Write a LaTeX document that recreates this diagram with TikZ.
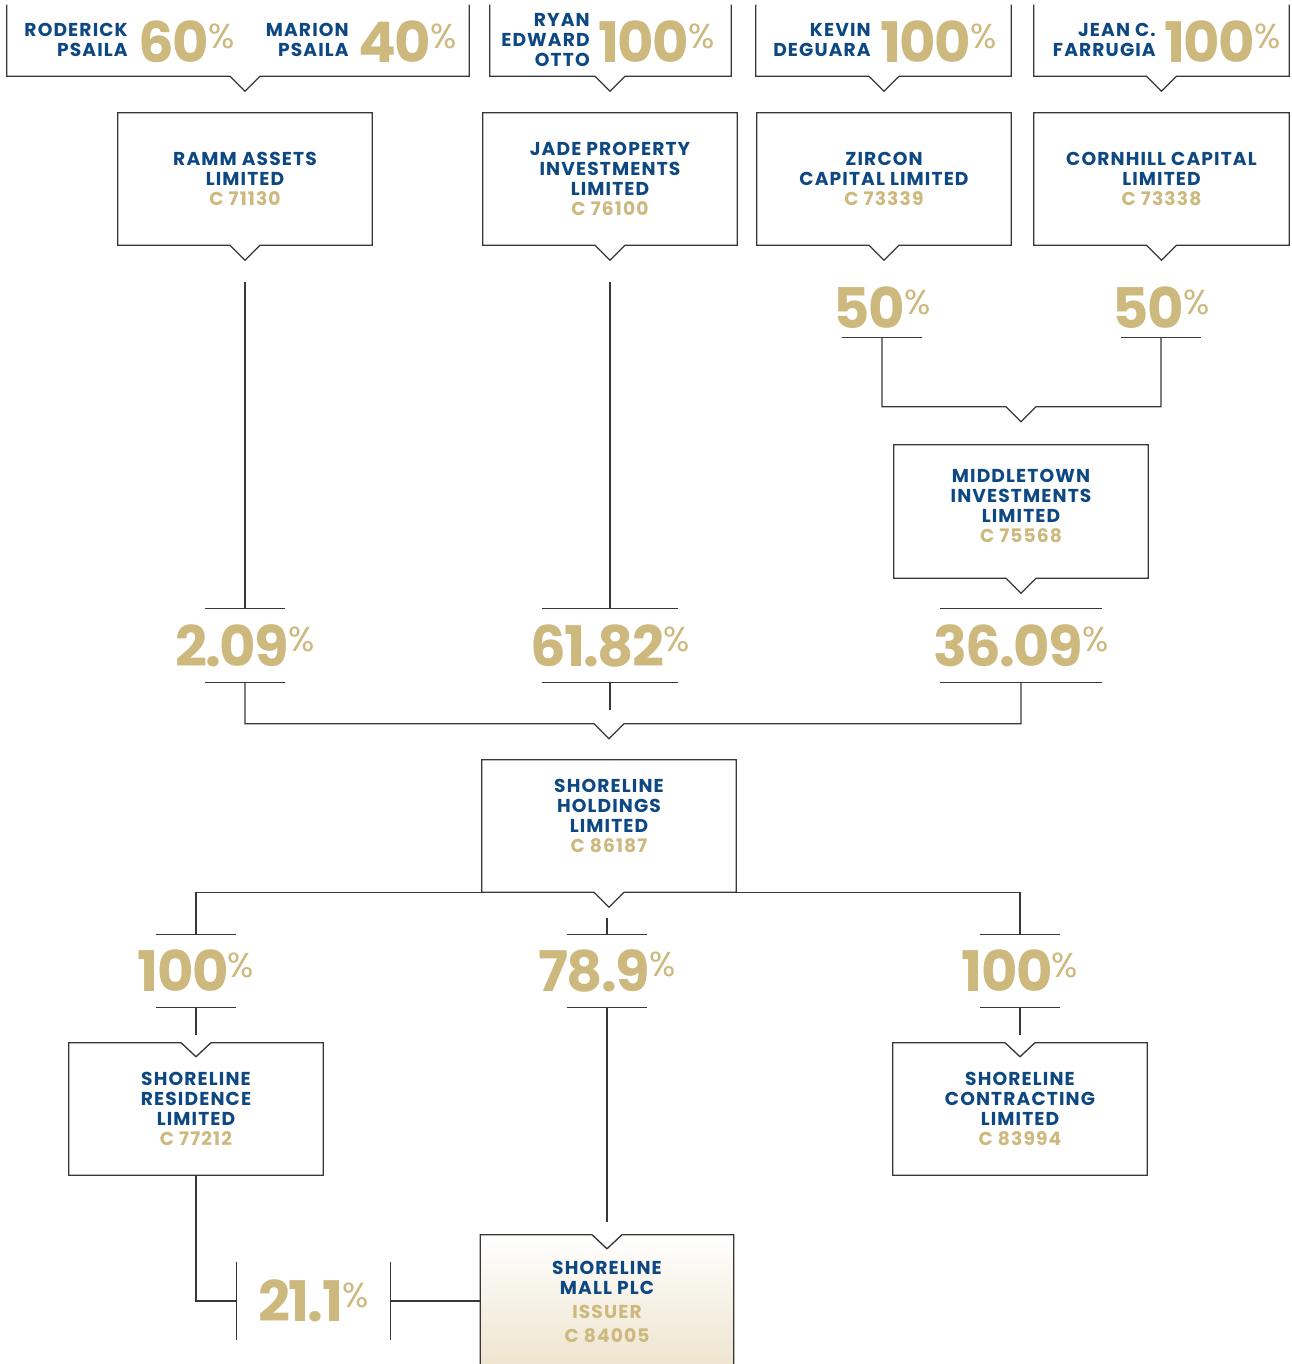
\documentclass[tikz,border=0pt]{standalone}
\usepackage{fontspec}
\setmainfont{Poppins}
\definecolor{navy}{RGB}{14,72,130}
\definecolor{gold}{RGB}{205,184,126}
\definecolor{sand}{RGB}{238,228,206}
\definecolor{wirecol}{RGB}{55,55,55}

\newcommand{\firmfont}{\fontsize{14}{15}\selectfont\bfseries\addfontfeatures{LetterSpace=6}}
\newcommand{\reg}[1]{\textcolor{gold}{#1}}
\newcommand{\share}[1]{{\fontsize{42}{42}\selectfont\bfseries\addfontfeatures{LetterSpace=-3}#1}\kern-0.5pt\raisebox{11pt}{\fontsize{26}{26}\selectfont\%}}
\newcommand{\snug}[1]{\makebox[0pt]{\share{#1}}}

% Kasten mit Kerbe unten
\newcommand{\notchbelow}[1]{%
  \draw[wire] (#1.north west) -- (#1.north east) -- (#1.south east)
    -- ([shift={(15,0)}]#1.south) -- ([shift={(0,15)}]#1.south)
    -- ([shift={(-15,0)}]#1.south) -- (#1.south west) -- cycle;}
% Kasten mit Kerbe oben (nach innen)
\newcommand{\notchabove}[1]{%
  \draw[wire] (#1.north west) -- ([shift={(-15,0)}]#1.north)
    -- ([shift={(0,14)}]#1.north) -- ([shift={(15,0)}]#1.north)
    -- (#1.north east) -- (#1.south east) -- (#1.south west) -- cycle;}
% oben offener Kasten, Kerbe ueber dem Ziel
\newcommand{\openbelow}[2]{%
  \path (#1.south -| #2) coordinate (nb);
  \draw[wire] (#1.north west) -- (#1.south west) -- ([shift={(-15,0)}]nb)
    -- ([shift={(0,15)}]nb) -- ([shift={(15,0)}]nb)
    -- (#1.south east) -- (#1.north east);}
% Striche ueber und unter einer Prozentzahl
\newcommand{\bars}[1]{%
  \draw[wire] (#1.north west) -- (#1.north east)
              (#1.south west) -- (#1.south east);}

\begin{document}
\begin{tikzpicture}[x=0.75pt, y=-0.75pt,
    wire/.style={draw=wirecol, line width=1pt},
    firm/.style={inner sep=0pt, align=center, text=navy, font=\firmfont,
                 minimum width=190.5pt, minimum height=99pt},
    topbox/.style={inner sep=0pt, minimum height=53.25pt},
    owner/.style={inner sep=0pt, align=right, text=navy, font=\firmfont},
    stake/.style={inner sep=0pt, text=gold},
    barstake/.style={stake, minimum width=60pt, minimum height=54.75pt}
]
\useasboundingbox (0,0) rectangle (1292,1364);

% --- Eigentuemer oben ---
\node[topbox, minimum width=346.5pt] (own1) at (238,40.5) {};
\node[owner, anchor=east] (roderick) at (128,40) {RODERICK\\PSAILA};
\node[stake, anchor=west] (s60) at (138,42) {\share{60}};
\node[owner, anchor=east] (marion) at (349,40) {MARION\\PSAILA};
\node[stake, anchor=west] (s40) at (358,42) {\share{40}};

\node[topbox, minimum width=180.75pt] (own2) at (610.5,40.5) {};
\node[owner, anchor=east] (ryan) at (590,40) {RYAN\\EDWARD\\OTTO};
\node[stake, anchor=west] (s100r) at (598,42) {\share{100}};

\node[topbox, minimum width=191.25pt] (own3) at (883.5,40.5) {};
\node[owner, anchor=east] (kevin) at (871,40) {KEVIN\\DEGUARA};
\node[stake, anchor=west] (s100k) at (880,42) {\share{100}};

\node[topbox, minimum width=191.25pt] (own4) at (1161.5,40.5) {};
\node[owner, anchor=east] (jean) at (1156,40) {JEAN C.\\FARRUGIA};
\node[stake, anchor=west] (s100j) at (1164,42) {\share{100}};

% --- Holdinggesellschaften ---
\node[firm] (ramm) at (245,179) {RAMM ASSETS\\LIMITED\\\reg{C 71130}};
\node[firm] (jade) at (610,179) {JADE PROPERTY\\INVESTMENTS\\LIMITED\\\reg{C 76100}};
\node[firm] (zircon) at (884,179) {ZIRCON\\CAPITAL LIMITED\\\reg{C 73339}};
\node[firm, minimum width=191.25pt] (cornhill) at (1161.5,179) {CORNHILL CAPITAL\\LIMITED\\\reg{C 73338}};

\openbelow{own1}{ramm}
\openbelow{own2}{jade}
\openbelow{own3}{zircon}
\openbelow{own4}{cornhill}
\notchbelow{ramm}
\notchbelow{jade}
\notchbelow{zircon}
\notchbelow{cornhill}

% --- Middletown ---
\node[stake, minimum width=59.25pt, minimum height=43.5pt] (s50a) at (882,308) {\snug{50}};
\node[stake, minimum width=59.25pt, minimum height=43.5pt] (s50b) at (1161,308) {\snug{50}};
\draw[wire] (s50a.south west) -- (s50a.south east);
\draw[wire] (s50b.south west) -- (s50b.south east);

\node[firm, minimum height=99.75pt] (middle) at (1021,511.5) {MIDDLETOWN\\INVESTMENTS\\LIMITED\\\reg{C 75568}\\[-7pt]\mbox{}};
\notchbelow{middle}
\path ([shift={(0,-38)}]middle.north) coordinate (mbus);
\draw[wire] (s50a.south) |- ([shift={(-15,0)}]mbus) -- ([shift={(0,15)}]mbus)
  -- ([shift={(15,0)}]mbus) -| (s50b.south);

% --- Anteile an Shoreline Holdings ---
\node[barstake] (s209) at (245,645.5) {\snug{2.09}};
\node[barstake, minimum width=102pt] (s6182) at (610,645.5) {\snug{61.82}};
\node[barstake, minimum width=121.5pt] (s3609) at (1021,645.5) {\snug{36.09}};
\bars{s209}
\bars{s6182}
\bars{s3609}

\draw[wire] ([shift={(0,37)}]ramm.south) -- (s209.north);
\draw[wire] ([shift={(0,37)}]jade.south) -- (s6182.north);

\node[firm] (hold) at (609,826) {SHORELINE\\HOLDINGS\\LIMITED\\\reg{C 86187}\\\mbox{}};
\path ([shift={(0,-36)}]hold.north) coordinate (hbus);
\draw[wire] (s209.south) |- ([shift={(-15,0)}]hbus) -- ([shift={(0,15)}]hbus)
  -- ([shift={(15,0)}]hbus) -| (s3609.south);
\draw[wire] (s6182.south) -- ([shift={(0,-14)}]hbus -| s6182.south);
\notchbelow{hold}

% --- Tochtergesellschaften ---
\node[barstake, minimum height=54pt] (s100a) at (196,971) {\snug{100}};
\node[barstake, minimum height=54pt] (s789) at (607,971) {\snug{78.9}};
\node[barstake, minimum height=54pt] (s100b) at (1020,971) {\snug{100}};
\bars{s100a}
\bars{s789}
\bars{s100b}

\draw[wire] (s100a.north) |- (hold.south west);
\draw[wire] (hold.south east) -| (s100b.north);
\draw[wire] ([shift={(0,26)}]hold.south -| s789.north) -- (s789.north);

\node[firm] (res) at (196,1109) {SHORELINE\\RESIDENCE\\LIMITED\\\reg{C 77212}};
\node[firm] (contr) at (1020,1109) {SHORELINE\\CONTRACTING\\LIMITED\\\reg{C 83994}};
\notchabove{res}
\notchabove{contr}
\draw[wire] (s100a.south) -- ([shift={(0,-8)}]res.north);
\draw[wire] (s100b.south) -- ([shift={(0,-8)}]contr.north);

% --- Emittentin ---
\node[firm, minimum width=189.75pt, minimum height=100.5pt, top color=white, bottom color=sand]
  (issuer) at (607,1302) {SHORELINE\\MALL PLC\\[3pt]\reg{ISSUER}\\[3pt]\reg{C 84005}};
\notchabove{issuer}
\draw[wire] (s789.south) -- ([shift={(0,-13)}]issuer.north);

\node[stake, minimum width=114.75pt, minimum height=58.5pt] (s211) at (313.5,1301) {\share{21.1}};
\draw[wire] (s211.north west) -- (s211.south west)
            (s211.north east) -- (s211.south east);
\draw[wire] (res.south) |- (s211.west);
\draw[wire] (s211.east) -- (s211.east -| issuer.west);

\end{tikzpicture}
\end{document}
